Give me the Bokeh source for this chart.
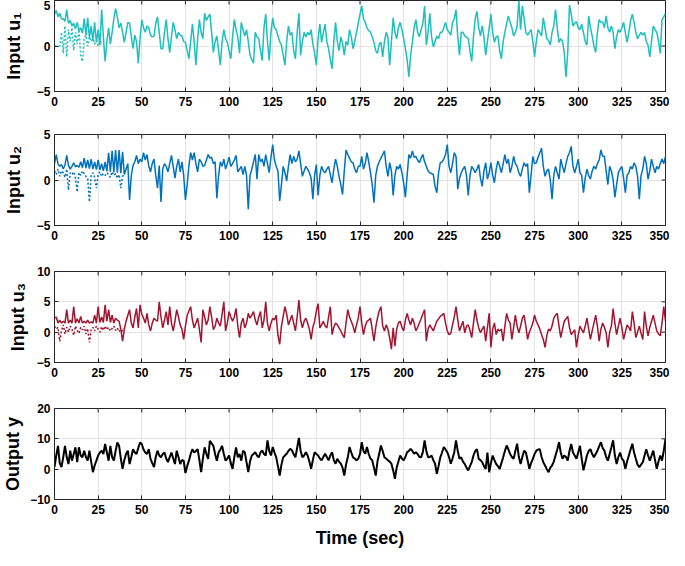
import numpy as np
from bokeh.plotting import figure
from bokeh.layouts import column
from bokeh.models import FixedTicker, Range1d
from bokeh.embed import file_html
from bokeh.resources import INLINE

time_ticks = list(range(0, 351, 25))
u1_ticks = [-5, 0, 5]
u2_ticks = [-5, 0, 5]
u3_ticks = [-5, 0, 5, 10]
y_ticks = [-10, 0, 10, 20]

# Input u1 (1-s samples, t = 0..350)
u1 = [
    3.5, 3.9, 3.2, 3.6, 3.0, 3.0, 2.7, 4.0, 2.5, 2.8,
    2.2, 2.5, 1.9, 2.6, 1.7, 2.0, 1.4, 3.0, 1.2, 3.1,
    0.9, 2.2, 0.6, 2.6, 0.4, 1.8, 0.1, 4.0, 1.0, -1.7,
    0.5, 2.0, 0.2, 1.5, 3.0, 4.1, 3.2, 2.0, 2.5, 1.5,
    0.4, 1.5, 2.6, 2.5, 1.0, -0.3, 1.2, 0.5, -1.9, 0.8,
    2.9, 2.0, 1.5, 2.2, 2.0, 1.2, 1.0, 1.1, 2.5, 3.2,
    1.5, -0.3, -0.3, 1.5, 2.9, 0.8, -0.7, 1.0, 2.6, 1.8,
    0.8, 1.5, 1.2, 1.1, 0.5, 0.4, -0.5, -1.4, 0.5, 2.4,
    0.5, -2.1, 0.8, 2.9, 1.5, 0.8, 3.6, 2.8, 3.2, 3.5,
    1.5, -0.7, 0.5, 1.1, -0.5, -2.1, 0.5, 1.8, 0.8, 0.4,
    -0.5, -1.4, 1.0, 2.9, 1.8, 1.0, -0.8, 2.6, 1.8, 1.1,
    1.8, 0.5, -1.0, -1.5, -1.9, 1.5, 1.0, 0.8, -0.5, -1.6,
    2.0, 3.5, 0.5, -1.6, 1.5, 3.1, 2.0, 1.8, 1.1, 0.5,
    0.1, -1.0, -2.1, 0.5, 2.2, 1.2, 1.5, -0.5, -1.4, 1.5,
    3.6, -1.0, 0.5, 1.5, 1.0, 1.5, 1.2, 1.8, 0.2, -0.8,
    -2.1, 0.8, 2.4, 0.4, 1.5, 2.4, 0.5, -0.3, -1.5, -2.5,
    0.5, 2.6, 0.5, -0.5, 1.0, 0.3, -1.0, 0.5, 0.1, 1.8,
    1.0, -0.3, 0.5, 1.5, 2.5, 3.5, 4.4, 3.0, 2.6, 2.0,
    1.7, 1.5, 1.0, 0.4, -0.5, -0.8, 0.2, 0.4, -1.2, 0.5,
    1.5, 1.0, -2.1, 0.5, 3.1, 1.5, 0.8, 2.0, 2.6, 1.8,
    0.8, -0.3, -1.5, -3.4, -1.0, 0.4, 2.0, 2.9, 1.5, 1.0,
    1.8, 2.5, 4.4, 0.1, 1.5, 3.6, 1.0, -0.1, 0.5, 1.1,
    0.8, 1.5, 1.5, 2.0, 2.6, 1.8, 1.5, 1.2, 2.6, 3.0,
    4.0, 1.0, -1.0, 1.5, 1.5, 1.1, 1.0, 0.8, -0.5, -1.7,
    1.0, 3.0, 3.8, 2.0, 1.1, 2.2, 1.0, -1.0, 0.5, 2.0,
    3.5, 1.5, 0.4, 1.0, 1.1, -0.5, -1.4, 0.5, 1.5, 2.5,
    3.3, 2.6, 2.0, 1.1, 1.5, 2.2, 5.0, 1.8, 4.4, 3.0,
    1.5, 1.2, 1.5, 1.8, 0.5, -1.2, 0.5, 1.8, 1.5, 1.1,
    3.1, 2.0, 0.8, 0.6, 0.1, 1.5, 2.2, 4.0, 2.0, 0.4,
    0.8, 0.5, -0.7, -3.4, -0.7, 4.5, 3.5, 2.2, 2.5, 2.7,
    2.0, 1.8, 2.4, 1.5, 0.5, 0.1, 3.3, 2.0, 1.1, 0.0,
    -0.7, 1.5, 2.9, 2.6, 2.6, 2.0, 3.3, 2.0, 1.5, 2.2,
    1.5, -0.3, 1.0, 1.8, 1.5, 2.0, 2.6, 1.5, 0.4, 1.5,
    2.8, 3.5, 2.6, 1.5, 0.8, 1.2, 1.5, 1.2, 1.5, 0.5,
    0.1, -1.2, 0.5, 2.2, 1.8, 1.5, 0.5, -0.8, 2.9, 3.2,
    3.6,
]
u1_dash = [
    0.0, 0.0, 0.0, 0.0, 1.5, -0.8, 2.2, -1.2, 1.8, 0.5,
    2.0, -0.5, 1.5, 0.2, 1.8, -1.0, -1.7, 0.8, 1.2, 0.0,
    1.0, 0.5, 0.8, 0.2, 0.6, 0.0, 0.5, 0.3,
]

# Input u2
u2 = [
    1.8, 2.8, 1.75, 1.5, 1.7, 1.2, 1.65, 2.7, 1.6, 1.2,
    1.5, 1.9, 1.45, 1.6, 1.4, 2.0, 1.35, 2.4, 1.3, 2.2,
    1.25, 2.3, 1.2, 2.0, 1.15, 2.2, 1.1, 1.8, 1.0, 2.0,
    0.95, 3.0, 0.9, 3.2, 0.85, 3.3, 0.8, 3.3, 0.75, 3.1,
    0.6, 1.2, 1.8, -2.2, 0.5, 1.6, 2.0, 2.7, 1.8, 2.3,
    2.0, 3.0, 2.2, 2.8, 1.5, 0.9, 1.8, 2.3, 0.5, -0.9,
    1.6, -2.4, 1.2, 1.8, 1.5, 0.9, 1.8, 2.7, 1.5, 0.2,
    1.5, 2.3, 0.9, 2.0, 0.5, -2.2, -0.5, 1.6, 3.0, 2.2,
    3.0, 1.8, 0.9, 2.3, 2.0, 1.5, 1.6, 2.2, 2.8, 2.4,
    2.5, 1.8, 2.0, -2.0, 0.5, 2.0, 1.5, 2.3, 1.2, 1.8,
    2.5, 1.5, 1.8, 2.2, 2.7, 0.9, 1.2, 1.5, 0.6, 1.5,
    0.5, -3.2, 0.5, 1.2, 2.0, 2.8, 0.1, 2.8, 2.0, 2.3,
    1.5, 2.8, 1.8, 0.8, 2.5, 3.9, 2.2, 1.5, 1.0, -2.3,
    -0.5, 1.5, 0.8, -0.1, 1.5, 2.8, 1.8, 2.6, 2.0, 2.3,
    3.2, 1.8, 0.4, 1.0, 1.5, 1.2, 0.8, 0.2, -2.1, 0.5,
    1.7, -1.7, 0.5, 1.5, 1.0, 0.8, 1.2, 1.5, 0.6, -0.3,
    1.2, 2.3, 1.5, 0.4, -0.5, -1.6, 1.0, 3.3, 2.8, 2.4,
    2.0, 1.9, 1.2, 0.8, 1.5, 1.5, 2.6, 1.2, 1.8, 3.0,
    2.0, 0.8, -0.5, -2.5, 0.5, 1.5, 2.0, 2.4, 2.8, 3.2,
    1.5, 0.4, 1.9, 1.0, -1.7, 0.5, 1.5, 1.2, 1.7, 0.8,
    -0.3, -1.9, 0.5, 2.8, 2.4, 3.2, 2.5, 2.6, 2.2, 1.9,
    2.4, 2.8, 2.0, 1.5, 1.0, 0.8, 0.7, 0.6, -0.7, -1.4,
    0.8, 1.9, 2.0, 2.3, 2.8, 3.9, 1.5, 0.8, 1.8, 3.0,
    2.6, -1.0, 0.2, 0.8, 1.2, 1.5, 0.5, -1.7, 0.5, 1.5,
    1.2, 0.8, 1.2, 1.7, 0.2, -0.7, 1.0, 1.9, 0.1, 0.8,
    1.9, 0.5, -0.3, 1.2, 2.1, 1.5, 0.8, 1.8, 2.8, 1.8,
    2.3, 0.8, 1.5, 2.6, 1.8, 1.5, 0.8, 0.4, 1.2, 1.9,
    1.5, 1.8, -1.4, 0.5, 2.6, 1.8, 1.9, 2.5, 3.0, 3.5,
    1.5, 0.4, 1.0, 1.2, 0.0, -2.1, 0.5, 1.5, 0.8, 0.1,
    2.3, 1.5, 0.8, 1.8, 2.6, 3.0, 3.7, 1.5, 0.8, 1.5,
    2.3, 0.8, 0.5, -1.4, 0.2, 1.2, 0.5, 0.1, 1.0, 1.5,
    1.2, 1.8, 2.2, 3.3, 2.6, 2.6, 1.0, -0.5, 1.5, 1.0,
    0.0, -1.9, -0.5, 0.8, 1.2, 1.5, 0.2, -1.4, 0.5, 0.8,
    1.5, 1.2, 1.9, 1.5, 0.4, -2.1, 0.5, 1.2, 2.6, 1.8,
    0.1, 1.0, 2.3, 1.5, 0.8, 1.5, 1.2, 1.8, 2.3, 1.8,
    2.6,
]
u2_dash = [
    1.0, 0.6, 1.2, 0.4, 1.0, 0.8, 0.3, 1.2, -1.1, 0.8,
    0.6, 0.9, 0.2, -1.3, 0.8, 0.5, 1.0, 0.7, 0.4, 0.2,
    -2.4, 0.5, 0.8, 0.3, -0.9, 0.6, 0.9, 0.4, 0.7, 0.5,
    0.8, 0.6, 0.3, 0.9, 0.5, 0.7, 0.2, 0.6, -0.9, 0.4,
    0.8,
]

# Input u3
u3 = [
    2.3, 2.5, 1.5, 2.0, 1.5, 1.8, 1.5, 3.7, 1.5, 2.0,
    1.5, 4.2, 1.5, 2.2, 1.5, 2.6, 1.5, 1.8, 1.5, 2.0,
    1.5, 1.7, 1.5, 2.8, 1.5, 4.2, 1.6, 2.5, 1.6, 4.5,
    1.8, 3.7, 1.6, 2.8, 1.5, 2.3, 2.0, 1.8, 0.5, -1.5,
    0.5, 1.8, 2.8, 3.7, 1.5, 0.7, 2.5, 3.9, 0.7, 4.5,
    3.0, 2.3, 1.5, 3.1, 1.2, 0.2, 1.5, 2.3, 2.0, 1.8,
    5.0, 2.5, 0.7, 2.0, 3.4, 1.2, 4.2, 1.5, 0.2, 1.8,
    3.7, 2.5, 1.2, 0.5, -1.2, 1.0, 2.8, 3.5, 4.2, 2.0,
    0.7, 1.5, 2.3, 0.5, -1.7, 3.7, 2.5, 1.2, 2.0, 4.2,
    2.5, 0.4, 1.0, 2.3, 1.5, 1.0, 3.0, 5.0, 0.2, 1.5,
    3.4, 2.5, 1.8, 2.5, 3.9, 1.0, -0.9, 1.5, 2.3, 0.7,
    1.5, 3.1, 2.3, 2.8, 3.4, 2.0, 1.2, 2.5, 3.4, 0.7,
    2.0, 5.0, 1.5, 0.2, 1.5, 2.3, 2.0, 2.8, -0.5, -2.0,
    1.0, 2.6, 4.2, 3.0, 1.2, 2.0, 2.8, 1.5, 0.2, 2.5,
    5.3, 2.0, 0.7, 1.8, 2.3, 1.5, 0.5, -1.2, 0.8, 1.8,
    3.5, 4.7, 0.7, 1.2, 1.8, 1.0, 0.7, 2.5, 4.2, -0.4,
    0.8, 1.5, 1.2, 0.7, 0.2, -0.4, -0.9, 1.5, 3.7, 2.5,
    1.8, 1.0, -0.1, 1.2, 2.3, 4.2, 1.5, -0.4, 1.0, 1.8,
    2.0, 2.3, 0.5, -1.5, 0.8, 2.3, 3.5, 4.2, 1.0, 0.2,
    1.2, 0.5, -1.0, -2.8, 0.7, -2.3, 0.5, 1.5, 1.8, 0.8,
    0.2, 2.0, 3.1, 2.0, 1.2, 2.3, 1.5, 0.2, 0.8, 1.5,
    2.2, 3.0, 3.7, -1.5, 0.5, 1.2, 0.7, 0.2, 1.0, 1.8,
    2.2, 2.6, 2.8, 3.1, 1.5, 0.2, -0.4, -0.2, 1.2, 2.5,
    4.2, 2.0, 0.2, 1.0, 1.8, -0.1, 1.0, 1.2, 0.3, -0.9,
    1.5, 3.7, 2.0, 0.7, -0.1, 0.5, 1.0, -1.5, 0.8, 3.1,
    -2.5, 0.5, 1.5, -0.4, 0.5, 0.2, 0.5, -1.5, 1.0, 3.1,
    2.0, 1.5, -1.2, 0.8, 2.8, 1.0, -0.1, 1.0, 2.3, 2.8,
    1.0, -1.2, 0.0, 0.7, 1.5, 2.8, 1.8, 1.2, 0.5, -0.4,
    -1.2, -2.5, -0.6, 0.5, 0.2, 1.0, 2.3, 2.8, 3.1, 1.0,
    -0.9, 0.5, 1.8, 2.2, 2.6, 0.8, -0.4, 0.0, 0.4, -2.5,
    -0.5, 1.0, 0.4, -0.1, 1.0, 2.3, 0.5, -1.2, 0.2, 1.5,
    2.8, 1.0, -1.5, 0.5, 1.5, 0.8, -0.1, -2.5, 0.0, 1.0,
    3.9, 1.5, -0.4, 1.0, 2.3, 0.8, -1.2, 0.0, 1.2, 0.8,
    0.2, 3.4, 1.5, -0.9, 0.0, 1.0, -0.2, -1.2, 3.4, 1.0,
    -0.6, 0.8, 1.8, 2.8, 1.5, 0.2, -0.3, -0.6, 1.5, 4.2,
    1.8,
]
u3_dash = [
    1.0, 0.5, 0.8, -1.5, 0.2, 1.2, -0.3, 0.8, 0.0, 1.0,
    0.5, -0.5, 1.0, 0.3, -0.2, 0.8, 0.4, 1.0, -0.3, 0.6,
    -1.7, 0.4, 0.8, 0.2, 1.0, 0.5, 0.0, 0.9, 0.3, 1.0,
    0.4, 0.8, 0.2, 0.6, 1.0, 0.3, 0.7, 0.1, 0.5, 0.2,
    0.6,
]

# Output y
y_out = [
    0.7, 4.5, 7.7, 2.0, 0.7, 3.9, 7.7, 4.0, 1.7, 6.1,
    2.8, 5.0, 7.2, 2.3, 7.2, 4.5, 3.9, 6.1, 4.0, 2.8,
    6.1, 2.5, -1.0, 1.2, 2.8, 4.5, 5.5, 6.1, 5.0, 8.3,
    5.5, 2.8, 7.7, 4.0, 2.8, 6.0, 8.8, 7.7, 3.5, 0.1,
    3.0, 5.0, 6.1, 1.7, 4.0, 6.6, 5.5, 5.0, 7.0, 8.8,
    8.3, 6.5, 5.5, 5.0, 6.6, 3.4, 2.0, 0.7, 4.0, 6.1,
    4.5, 3.9, 5.0, 5.5, 3.5, 2.3, 4.0, 5.5, 3.5, 1.7,
    6.1, 4.0, 1.7, 3.0, 2.8, -1.3, 1.0, 2.8, 5.0, 6.6,
    5.5, 6.0, 6.6, 3.0, -1.0, 3.5, 7.2, 5.0, 3.4, 9.3,
    8.5, 7.7, 5.0, 2.8, 5.5, 6.5, 7.7, 5.0, 2.8, 3.5,
    4.5, 2.0, 0.1, 4.0, 7.2, 3.9, 5.0, 2.8, 6.1, 5.6,
    2.3, -1.0, 2.5, 4.5, 5.0, 5.6, 4.5, 3.9, 5.5, 6.2,
    5.0, 4.5, 9.5, 6.0, 4.5, 7.3, 5.5, 3.9, 1.0, -2.1,
    1.5, 3.9, 4.5, 5.1, 6.0, 6.7, 6.2, 5.0, 3.9, 7.0,
    10.3, 6.0, 3.9, 4.5, 5.6, 4.5, 2.5, 0.1, 3.0, 5.6,
    5.0, 4.5, 3.5, 2.9, 4.0, 5.1, 4.0, 2.9, 4.5, 5.6,
    3.0, 1.8, 3.4, 2.5, 1.8, 0.5, -2.1, 1.5, 3.9, 7.3,
    5.5, 3.9, 3.5, 2.9, 3.4, 5.0, 8.9, 6.0, 5.1, 7.3,
    5.0, 3.5, 2.9, 0.5, -2.1, 2.5, 5.1, 7.8, 6.0, 3.9,
    3.5, 2.9, 2.5, 1.8, -0.4, -3.2, 0.5, 2.5, 4.5, 3.5,
    2.9, 4.0, 5.6, 6.0, 6.7, 6.0, 5.1, 5.6, 5.0, 4.0,
    3.9, 5.6, 9.5, 6.0, 3.9, 4.0, 4.5, 3.0, 1.8, -1.5,
    1.0, 3.9, 5.5, 7.3, 6.5, 5.6, 4.0, 1.8, 3.5, 5.6,
    9.5, 6.0, 3.4, 3.9, 2.5, 1.7, 0.5, -0.4, 1.0, 2.3,
    4.5, 6.0, 6.6, 3.4, 3.0, 2.3, 1.0, 0.1, 5.5, -1.0,
    2.0, 4.5, 3.0, 1.7, 1.0, 0.1, 2.0, 3.9, 6.0, 7.8,
    6.5, 5.0, 4.0, 3.4, 6.0, 8.4, 4.0, 1.7, 4.0, 6.1,
    5.5, 3.0, 0.1, 2.0, 3.4, 5.0, 6.1, 6.5, 6.6, 4.0,
    2.3, 1.2, 0.0, -1.0, 0.5, 1.2, 2.5, 4.5, 6.5, 8.9,
    5.5, 3.4, 4.5, 4.0, 2.8, 6.0, 8.3, 5.5, 4.5, 3.4,
    5.5, 7.7, 3.5, -0.4, 2.0, 4.5, 6.0, 6.6, 5.0, 3.9,
    5.0, 6.1, 7.5, 8.9, 7.0, 6.1, 4.0, 2.8, 5.0, 7.2,
    9.5, 4.5, 1.7, 4.0, 5.5, 3.5, 2.8, 0.1, 2.5, 4.5,
    6.5, 8.4, 5.5, 3.4, 1.5, 0.7, 1.5, 2.3, 4.5, 6.6,
    4.5, 2.8, 4.5, 6.1, 3.0, 0.1, 2.5, 4.5, 2.8, 6.0,
    10.0,
]

FONT = "Liberation Sans"
EDGE = "#262626"


def make_panel(series, dash, color, ylabel, yr, yticks, height, top, bottom,
               lw=1.5, xlabel=None, ylab_standoff=10):
    p = figure(width=669, height=height, output_backend="svg", toolbar_location=None,
               x_range=Range1d(0, 350), y_range=Range1d(yr[0], yr[1]),
               min_border_left=47, min_border_right=4,
               min_border_top=top, min_border_bottom=bottom)
    p.background_fill_color = "white"
    p.border_fill_color = "white"
    p.outline_line_color = EDGE
    p.outline_line_width = 1
    p.xgrid.ticker = FixedTicker(ticks=time_ticks)
    p.ygrid.ticker = FixedTicker(ticks=yticks)
    p.grid.grid_line_color = "#e3e3e3"
    p.grid.grid_line_width = 1

    if dash is not None:
        p.line(np.arange(len(dash)), dash, color=color, line_width=lw, line_dash="2 2")
    p.line(np.arange(len(series)), series, color=color, line_width=lw)

    # inward tick marks on the top and right frame edges (MATLAB box style)
    p.scatter(time_ticks, [yr[1]] * len(time_ticks), marker="dash", angle=np.pi / 2,
              size=8, line_color=EDGE, line_width=1)
    p.scatter([350] * len(yticks), yticks, marker="dash", angle=0,
              size=8, line_color=EDGE, line_width=1)

    p.xaxis.ticker = FixedTicker(ticks=time_ticks)
    p.yaxis.ticker = FixedTicker(ticks=yticks)
    for ax in (p.xaxis[0], p.yaxis[0]):
        ax.major_label_text_font = FONT
        ax.major_label_text_font_style = "bold"
        ax.major_label_text_font_size = "12px"
        ax.major_label_text_color = "black"
        ax.major_tick_in = 4
        ax.major_tick_out = 0
        ax.major_tick_line_color = EDGE
        ax.minor_tick_line_color = None
        ax.axis_line_color = EDGE
        ax.axis_label_text_font = FONT
        ax.axis_label_text_font_style = "bold"
        ax.axis_label_text_font_size = "18px"
        ax.axis_label_text_color = "black"
    p.xaxis.major_label_standoff = 5
    p.yaxis.major_label_standoff = 4
    p.yaxis.axis_label = ylabel
    p.yaxis.axis_label_standoff = ylab_standoff
    if xlabel:
        p.xaxis.axis_label = xlabel
        p.xaxis.axis_label_standoff = 11
    return p


p1 = make_panel(u1, u1_dash, "#1DBFBF", "Input u\u2081", (-5, 5), u1_ticks, 121, 0, 30)
p2 = make_panel(u2, u2_dash, "#0072BD", "Input u\u2082", (-5, 5), u2_ticks, 134, 13, 30)
p3 = make_panel(u3, u3_dash, "#A2142F", "Input u\u2083", (-5, 10), u3_ticks, 137, 16, 30,
                ylab_standoff=6)
p4 = make_panel(y_out, None, "black", "Output y", (-10, 20), y_ticks, 158, 16, 51,
                lw=2, xlabel="Time (sec)", ylab_standoff=4)

layout = column(p1, p2, p3, p4)
open("out.html", "w").write(file_html(layout, INLINE))
